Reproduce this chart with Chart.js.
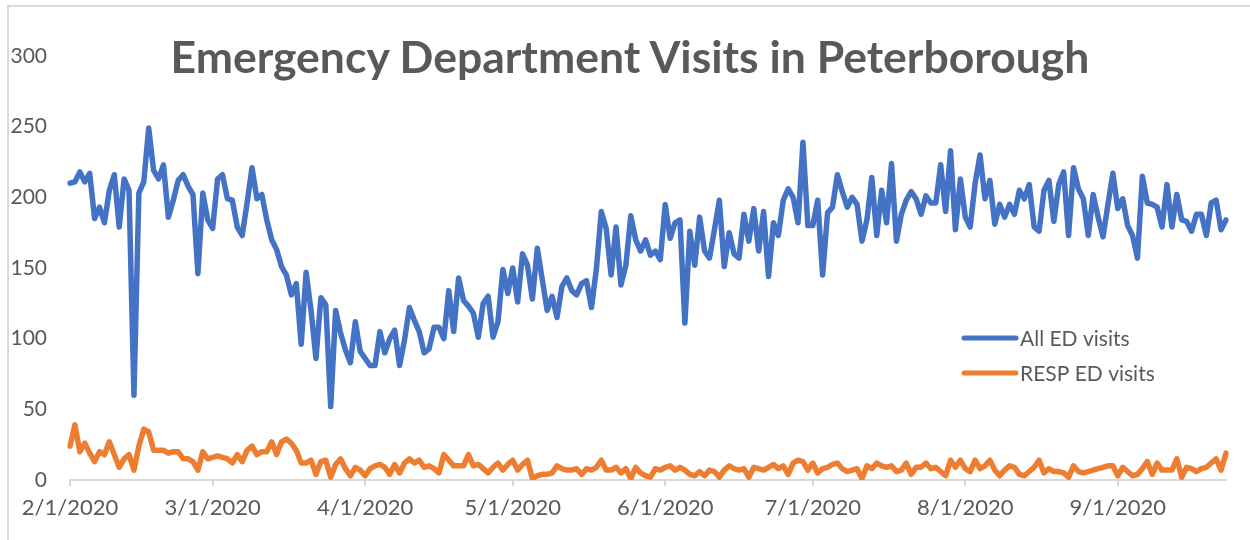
<!DOCTYPE html>
<html>
<head>
<meta charset="utf-8">
<script src="https://cdn.jsdelivr.net/npm/chart.js@4.4.1/dist/chart.umd.min.js"></script>
<style>
  body { margin: 0; background: #fff; }
  #wrap { position: relative; width: 1250px; height: 540px; overflow: hidden; }
  #frame { position: absolute; left: 7px; top: 5px; width: 1300px; height: 600px;
           border-left: 2px solid #d9d9d9; border-top: 2px solid #d9d9d9; }
  #title { position: absolute; left: 0; top: 32px; width: 1260px; text-align: center;
           font: bold 44.5px Lato, "Open Sans", sans-serif; line-height: 48px; color: #595959; }
</style>
</head>
<body>
<div id="wrap">
  <div id="frame"></div>
  <canvas id="myChart"></canvas>
  <div id="title">Emergency Department Visits in Peterborough</div>
</div>
<script>
// daily counts, 2/1/2020 .. 9/23/2020
const allVisits = [
  210, 211, 218, 211, 217, 185, 193, 182, 205, 216, 179, 213, 205, 60, 203, 211, 249, 219, 213, 223,
  186, 198, 212, 216, 208, 202, 146, 203, 184, 178, 213, 216, 199, 198, 179, 173, 196, 221, 199, 202,
  184, 170, 163, 151, 145, 131, 139, 96, 147, 120, 86, 129, 124, 52, 120, 104, 92, 83, 112,
  91, 86, 81, 81, 105, 90, 100, 106, 81, 99, 122, 113, 105, 90, 93, 108, 108, 100, 134, 105,
  143, 127, 123, 118, 101, 125, 130, 101, 112, 149, 132, 150, 126, 160, 152, 128, 164, 142, 120, 130,
  115, 137, 143, 134, 131, 139, 141, 122, 149, 190, 178, 145, 179, 138, 152, 187, 170,
  162, 170, 159, 162, 156, 195, 171, 182, 184, 111, 176, 152, 186, 162, 157, 177, 198, 151, 175, 160,
  157, 188, 169, 192, 162, 190, 144, 182, 173, 198, 206, 200, 182, 239, 180, 180, 198, 145, 189, 193,
  216, 204, 193, 200, 195, 169, 184, 214, 173, 205, 182, 224, 169, 188, 198, 204, 199, 188, 201,
  196, 196, 223, 190, 233, 177, 213, 186, 179, 210, 230, 199, 212, 181, 195, 186, 195, 188, 205, 199,
  209, 179, 176, 205, 212, 183, 209, 218, 173, 221, 206, 199, 173, 202, 186, 172, 195, 217, 192, 199,
  180, 173, 157, 215, 196, 195, 193, 179, 209, 179, 202, 184, 183, 176, 188, 188, 173, 196, 198, 177, 184
];

const respVisits = [
  24, 39, 20, 26, 19, 13, 20, 18, 27, 18, 9, 15, 18, 7, 24, 36, 34, 21, 21, 21,
  19, 20, 20, 15, 15, 13, 7, 20, 15, 16, 17, 16, 15, 12, 18, 13, 21, 24, 18, 20,
  20, 27, 18, 27, 29, 26, 21, 12, 12, 14, 4, 13, 14, 2, 11, 15, 8, 3, 9, 7, 3, 8, 10,
  11, 9, 4, 11, 5, 12, 15, 12, 14, 9, 10, 8, 5, 18, 14, 10, 10, 10, 18, 10,
  11, 8, 5, 9, 12, 7, 11, 14, 7, 11, 14, 1, 3, 4, 4, 5, 10, 8, 7, 7,
  8, 4, 8, 7, 9, 14, 7, 7, 9, 5, 8, 1, 9, 5, 3, 2, 8, 7, 9, 10,
  7, 9, 7, 4, 3, 6, 3, 7, 6, 2, 7, 10, 8, 7, 8, 2, 9, 8, 7, 9,
  11, 8, 10, 4, 12, 14,
  13, 7, 12, 5, 8, 9, 11, 12, 8, 6, 7, 8, 1, 10, 8, 12, 10, 9, 10, 6,
  7, 12, 4, 9, 9, 12, 8, 9, 6, 3, 14, 9, 14, 8, 6, 14, 8, 10, 14, 7,
  3, 7, 10, 9, 4, 3, 6, 9, 14, 5, 8, 6, 6, 5, 2, 10, 6, 5, 6, 7,
  8, 9, 10, 10, 3, 9, 6, 3, 4, 8, 13, 4, 12, 7, 7, 7, 15, 2, 9, 8,
  6, 8, 9, 12, 15, 7, 19
];

const seriesNames = ['All ED visits', 'RESP ED visits'];
const tickLabels = ['2/1/2020', '3/1/2020', '4/1/2020', '5/1/2020', '6/1/2020', '7/1/2020', '8/1/2020', '9/1/2020'];
const yTicks = [0, 50, 100, 150, 200, 250, 300];

const dateLabels = [];
for (let i = 0; i < allVisits.length; i++) {
    const d = new Date(2020, 1, 1 + i);
    dateLabels.push(`${d.getMonth() + 1}/${d.getDate()}/${d.getFullYear()}`);
}

const FONT = 'Lato, "Open Sans", sans-serif';
const TEXT = '#595959';

// legend drawn inside the plot, right side
const insideLegend = {
    id: 'insideLegend',
    afterDraw(chart) {
        const ctx = chart.ctx;
        ctx.save();
        chart.data.datasets.forEach((ds, i) => {
            const y = 338 + i * 35;
            ctx.strokeStyle = ds.borderColor;
            ctx.lineWidth = 5;
            ctx.lineCap = 'round';
            ctx.beginPath();
            ctx.moveTo(964, y);
            ctx.lineTo(1016, y);
            ctx.stroke();
            ctx.fillStyle = TEXT;
            ctx.font = '21px ' + FONT;
            ctx.textBaseline = 'middle';
            ctx.fillText(ds.label, 1020, y + 1);
        });
        ctx.restore();
    }
};

new Chart(document.getElementById('myChart').getContext('2d'), {
    type: 'line',
    data: {
        labels: dateLabels,
        datasets: [
            { label: seriesNames[0], data: allVisits, borderColor: '#4472C4', borderWidth: 5.5 },
            { label: seriesNames[1], data: respVisits, borderColor: '#ED7D31', borderWidth: 5.5 },
        ],
    },
    options: {
        responsive: true,
        maintainAspectRatio: false,
        animation: false,
        elements: {
            point: { radius: 0 },
            line: { tension: 0, borderJoinStyle: 'round', borderCapStyle: 'round' },
        },
        layout: { padding: { left: 7, right: 24, top: 56, bottom: 0 } },
        plugins: {
            legend: { display: false },
            tooltip: { enabled: false },
        },
        scales: {
            x: {
                type: 'category',
                offset: false,
                grid: { display: true, drawOnChartArea: false, drawTicks: true, tickLength: 6, color: '#d9d9d9', lineWidth: 2 },
                border: { display: true, color: '#d9d9d9', width: 2 },
                ticks: {
                    autoSkip: false,
                    maxRotation: 0,
                    padding: 9,
                    color: TEXT,
                    font: { family: FONT, size: 22 },
                    callback: function (value) {
                        const lbl = this.getLabelForValue(value);
                        return tickLabels.includes(lbl) ? lbl : null;
                    },
                },
                afterFit: (scale) => { scale.height = 60; },
            },
            y: {
                min: 0,
                max: 300,
                grid: { display: false, drawTicks: false },
                border: { display: false },
                afterBuildTicks: (scale) => { scale.ticks = yTicks.map(v => ({ value: v })); },
                ticks: {
                    padding: 23,
                    color: TEXT,
                    font: { family: FONT, size: 21 },
                },
                afterFit: (scale) => { scale.width = 63; },
            },
        },
    },
    plugins: [insideLegend],
});
</script>
</body>
</html>
